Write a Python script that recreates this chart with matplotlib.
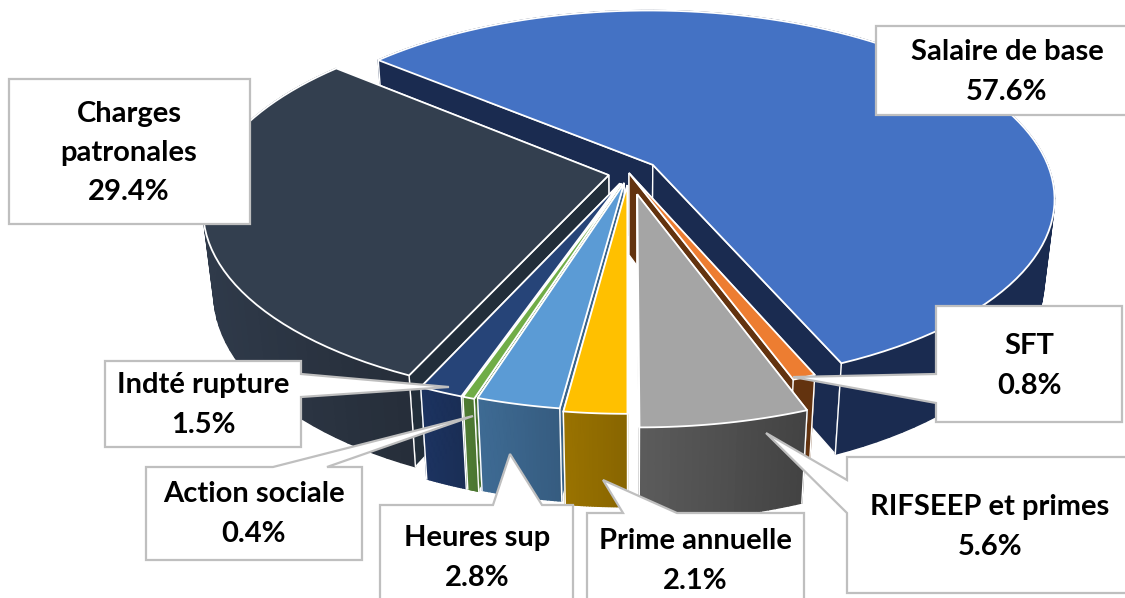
import numpy as np
import matplotlib
matplotlib.use("Agg")
import matplotlib.pyplot as plt
from matplotlib.patches import Polygon

plt.rcParams['font.family'] = ['Lato', 'DejaVu Sans']

# data, clockwise from the first slice
categories = ["Salaire de base", "SFT", "RIFSEEP et primes", "Prime annuelle",
              "Heures sup", "Action sociale", "Indté rupture", "Charges\npatronales"]
values = [57.6, 0.8, 5.6, 2.1, 2.8, 0.4, 1.5, 29.4]
explode = [0.075, 0.0, 0.115, 0.065, 0.055, 0.06, 0.06, 0.052]

top_colors = ["#4472C4", "#ED7D31", "#A5A5A5", "#FFC000", "#5B9BD5", "#70AD47", "#264478", "#333F4F"]
wall_left = ["#1A2B50", "#63330F", "#5C5C5C", "#9A7300", "#3E6B94", "#4F7C33", "#1C3361", "#2F3A4A"]
wall_right = ["#1A2B50", "#63330F", "#434343", "#886500", "#365C80", "#4A7530", "#1A2E55", "#262E3A"]
inner_colors = ["#1A2B50", "#63330F", "#4F4F4F", "#8F6B00", "#3A6389", "#4A7530", "#1A2E55", "#222E3A"]

# back to front
draw_order = [0, 7, 1, 6, 5, 4, 3, 2]

START_ANGLE = -50.0
CX, CY = 629, 173
RX, RY = 398, 184
DEPTH = 84
PERSP = 0.175
PERSP_Z = 0.025

# label boxes in pixels, with the callout wedge already in the outline
label_boxes = [
    [(876, 26), (1135, 26), (1135, 115), (876, 115)],
    [(936, 306), (1122, 306), (1122, 422), (936, 422), (936, 403), (793, 377), (936, 374)],
    [(847, 457), (1135, 457), (1135, 593), (847, 593), (847, 513), (766, 433), (847, 480)],
    [(587, 513), (623, 513), (603, 480), (677, 513), (804, 513), (804, 610), (587, 610)],
    [(380, 505), (493, 505), (510, 454), (542, 505), (573, 505), (573, 610), (380, 610)],
    [(146, 467), (273, 467), (473, 416), (327, 467), (362, 467), (362, 560), (146, 560)],
    [(105, 361), (301, 361), (301, 374), (449, 387), (301, 397), (301, 447), (105, 447)],
    [(9, 79), (250, 79), (250, 224), (9, 224)],
]
label_pos = [(1007, 72), (1029, 366), (990, 527), (695, 561), (477, 558), (254, 514), (203, 405), (129, 153)]


def project(x, y, z=0.0):
    w = 1 + PERSP * y - PERSP_Z * z
    return CX + RX * x / w, CY - (RY * y + DEPTH * z) / w


def hex_mix(c1, c2, t):
    a = np.array(matplotlib.colors.to_rgb(c1))
    b = np.array(matplotlib.colors.to_rgb(c2))
    return tuple(a + (b - a) * t)


fig = plt.figure(figsize=(11.25, 5.98), dpi=100)
ax = fig.add_axes([0, 0, 1, 1])
ax.set_xlim(0, 1125)
ax.set_ylim(598, 0)
ax.axis("off")

total = sum(values)
edges = START_ANGLE + np.cumsum([0] + values) / total * 360

for n, i in enumerate(draw_order):
    z = 1 + n
    a0, a1 = edges[i], edges[i + 1]
    mid = np.radians((a0 + a1) / 2)
    ex, ey = explode[i] * np.sin(mid), explode[i] * np.cos(mid)
    t = np.radians(np.linspace(a0, a1, max(int((a1 - a0) / 2), 24)))
    px = ex + np.sin(t)
    py = ey + np.cos(t)

    top_arc = np.array([project(x, y, 0) for x, y in zip(px, py)])
    bot_arc = np.array([project(x, y, -1) for x, y in zip(px, py)])
    apex_t = project(ex, ey, 0)
    apex_b = project(ex, ey, -1)

    # cut faces, the one further back first
    for k in sorted((0, -1), key=lambda c: top_arc[c, 1]):
        quad = [apex_t, top_arc[k], bot_arc[k], apex_b]
        ax.add_patch(Polygon(quad, closed=True, fc=inner_colors[i], ec="white", lw=1.0, zorder=z))

    # outer wall, shaded left to right
    xmin, xmax = min(top_arc[:, 0]), max(top_arc[:, 0])
    for k in range(len(t) - 1):
        quad = [top_arc[k], top_arc[k + 1], bot_arc[k + 1], bot_arc[k]]
        frac = (top_arc[k, 0] - xmin) / max(xmax - xmin, 1)
        col = hex_mix(wall_left[i], wall_right[i], frac)
        ax.add_patch(Polygon(quad, closed=True, fc=col, ec=col, lw=1.0, zorder=z))

    # corner lines of the wall
    for k in (0, -1):
        ax.plot([top_arc[k, 0], bot_arc[k, 0]], [top_arc[k, 1], bot_arc[k, 1]], color="white", lw=1.0, zorder=z)

    pts = np.vstack([[apex_t], top_arc])
    ax.add_patch(Polygon(pts, closed=True, fc=top_colors[i], ec="white", lw=1.3, joinstyle="miter", zorder=z))

for i, name in enumerate(categories):
    ax.add_patch(Polygon(label_boxes[i], closed=True, fc="white", ec="#BFBFBF", lw=1.6, joinstyle="miter", zorder=20))
    ax.text(label_pos[i][0], label_pos[i][1], f"{name}\n{values[i]:.1f}%", ha="center", va="center",
            fontsize=21, fontweight="bold", color="black", linespacing=1.63, zorder=21)

fig.savefig("out.png", dpi=100)
